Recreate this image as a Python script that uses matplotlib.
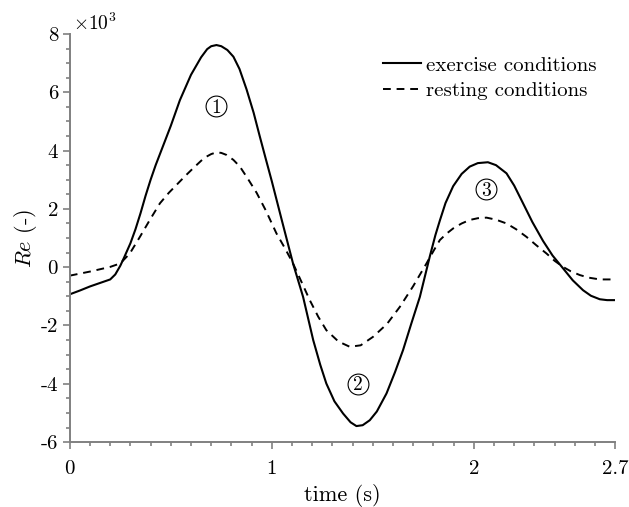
import matplotlib.pyplot as plt
from matplotlib.ticker import MultipleLocator

plt.rcParams['font.family'] = ['cmr10', 'DejaVu Serif']
plt.rcParams['mathtext.fontset'] = 'cm'
plt.rcParams['axes.unicode_minus'] = False

# Reynolds number (x10^3) over one cycle
t_ex = [0.0, 0.05, 0.1, 0.15, 0.2, 0.225, 0.25, 0.27, 0.3, 0.325, 0.35, 0.375,
        0.4, 0.425, 0.45, 0.5, 0.545, 0.6, 0.65, 0.68, 0.7, 0.726, 0.75,
        0.78, 0.81, 0.84, 0.875, 0.91, 0.94, 0.97, 1.0, 1.05, 1.105, 1.155,
        1.205, 1.24, 1.27, 1.31, 1.353, 1.39, 1.419, 1.45, 1.485, 1.52,
        1.568, 1.61, 1.65, 1.69, 1.733, 1.782, 1.81, 1.832, 1.86, 1.898,
        1.94, 1.98, 2.02, 2.07, 2.11, 2.162, 2.2, 2.244, 2.29, 2.343, 2.39,
        2.442, 2.49, 2.541, 2.58, 2.624, 2.66, 2.7]
re_ex = [-0.93, -0.8, -0.66, -0.54, -0.42, -0.25, 0.05, 0.35, 0.82, 1.3, 1.85,
         2.45, 3.0, 3.5, 3.95, 4.85, 5.73, 6.6, 7.2, 7.48, 7.58, 7.62, 7.58,
         7.45, 7.22, 6.8, 6.1, 5.3, 4.5, 3.72, 2.95, 1.6, 0.13, -1.02,
         -2.5, -3.35, -3.99, -4.6, -5.02, -5.32, -5.45, -5.42, -5.25, -4.95,
         -4.33, -3.6, -2.84, -1.95, -1.02, 0.36, 1.1, 1.6, 2.2, 2.78,
         3.2, 3.45, 3.57, 3.6, 3.5, 3.22, 2.8, 2.19, 1.55, 0.9, 0.4,
         -0.04, -0.45, -0.79, -0.98, -1.1, -1.13, -1.13]

t_rest = [0.0, 0.05, 0.1, 0.15, 0.2, 0.25, 0.297, 0.347, 0.396, 0.446, 0.49,
          0.528, 0.57, 0.61, 0.65, 0.676, 0.7, 0.726, 0.75, 0.776, 0.81,
          0.842, 0.88, 0.925, 0.97, 1.023, 1.065, 1.105, 1.15, 1.188, 1.23,
          1.27, 1.33, 1.386, 1.44, 1.501, 1.57, 1.634, 1.7, 1.766, 1.8,
          1.832, 1.865, 1.898, 1.94, 1.98, 2.02, 2.063, 2.11, 2.162, 2.21,
          2.261, 2.31, 2.36, 2.4, 2.442, 2.48, 2.525, 2.57, 2.624, 2.7]
re_rest = [-0.29, -0.22, -0.15, -0.07, 0.01, 0.13, 0.47, 1.04, 1.62, 2.19, 2.55,
           2.82, 3.12, 3.39, 3.65, 3.79, 3.88, 3.94, 3.92, 3.85, 3.68,
           3.45, 3.05, 2.55, 1.95, 1.16, 0.65, 0.13, -0.55, -1.13, -1.7,
           -2.16, -2.55, -2.73, -2.68, -2.39, -1.95, -1.36, -0.65, 0.13, 0.55,
           0.93, 1.15, 1.33, 1.5, 1.62, 1.68, 1.7, 1.63, 1.5, 1.3,
           1.04, 0.75, 0.47, 0.22, 0.01, -0.14, -0.27, -0.36, -0.42, -0.42]

phases = ['1', '2', '3']
phase_t = [0.726, 1.427, 2.06]
phase_re = [5.53, -3.99, 2.67]

x_ticks = [0, 1, 2, 2.7]
x_labels = ['0', '1', '2', '2.7']
y_ticks = [-6, -4, -2, 0, 2, 4, 6, 8]
y_labels = ['-6', '-4', '-2', '0', '2', '4', '6', '8']

fig = plt.figure(figsize=(6.29, 5.07), dpi=100)
ax = fig.add_axes([0.111, 0.128, 0.867, 0.805])

ax.plot(t_ex, re_ex, color='black', linewidth=1.5, label='exercise conditions')
ax.plot(t_rest, re_rest, color='black', linewidth=1.4, dashes=(4, 3),
        label='resting conditions')

# circled phase numbers
ax.plot(phase_t, phase_re, linestyle='none', marker='o', markersize=15,
        markerfacecolor='none', markeredgecolor='black', markeredgewidth=0.8)
for s, x, y in zip(phases, phase_t, phase_re):
    ax.text(x, y, s, ha='center', va='center_baseline', fontsize=14)

ax.set_xlim(0, 2.7)
ax.set_ylim(-6, 8)
ax.set_xticks(x_ticks, x_labels)
ax.set_yticks(y_ticks, y_labels)
ax.xaxis.set_minor_locator(MultipleLocator(0.1))
ax.yaxis.set_minor_locator(MultipleLocator(0.5))

for side in ['top', 'right']:
    ax.spines[side].set_visible(False)
for side in ['left', 'bottom']:
    ax.spines[side].set_color('#808080')
    ax.spines[side].set_linewidth(1.4)

ax.tick_params(which='both', direction='out', color='#808080', width=1.2,
               labelsize=15, labelcolor='black')
ax.tick_params(which='major', length=5)
ax.tick_params(which='minor', length=3)
ax.tick_params(axis='x', pad=8)

ax.set_xlabel('time (s)', fontsize=16, labelpad=4)
ax.set_ylabel(r'$Re$ (-)', fontsize=16, labelpad=1)
ax.text(0.005, 1.0, r'$\times10^3$', transform=ax.transAxes, fontsize=14,
        ha='left', va='bottom')

ax.legend(loc='upper right', bbox_to_anchor=(597 / 629, 1 - 56 / 507),
          bbox_transform=fig.transFigure, frameon=False, fontsize=15,
          handlelength=1.85, handletextpad=0.25, labelspacing=0.35,
          borderpad=0, borderaxespad=0)

plt.savefig('out.png', dpi=100)
plt.close()
